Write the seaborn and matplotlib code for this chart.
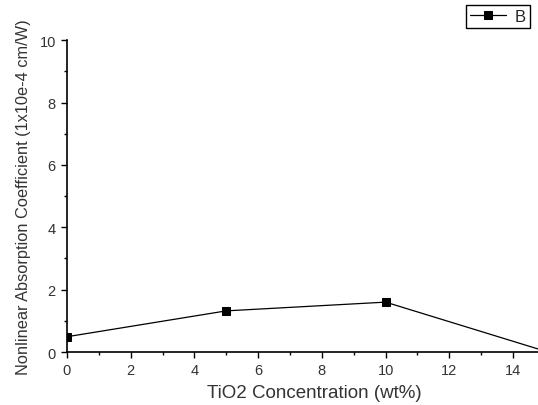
import matplotlib
matplotlib.use("Agg")
import matplotlib.pyplot as plt
import seaborn as sns
import pandas as pd
from matplotlib.ticker import MultipleLocator

# data
concentration = [0, 5, 10, 15]
coefficient = [0.49, 1.32, 1.60, 0.03]
series_name = "B"

df = pd.DataFrame({"x": concentration, "y": coefficient})

sns.set_style("ticks")
plt.rcParams["font.family"] = ["Liberation Sans", "DejaVu Sans"]

fig = plt.figure(figsize=(5.38, 4.06), dpi=100)
# axes run past the right edge, like the cropped original
ax = fig.add_axes([0.1245, 0.1305, 0.918, 0.768])

sns.lineplot(data=df, x="x", y="y", ax=ax, color="black", marker="s",
             markersize=6, linewidth=0.9, markeredgecolor="black",
             label=series_name, legend=False)

ax.set_xlim(0, 15.5)
ax.set_ylim(0, 10)
ax.xaxis.set_major_locator(MultipleLocator(2))
ax.xaxis.set_minor_locator(MultipleLocator(1))
ax.yaxis.set_major_locator(MultipleLocator(2))
ax.yaxis.set_minor_locator(MultipleLocator(1))
ax.tick_params(which="major", direction="out", length=4.5, width=1,
               labelsize=10.5, labelcolor="#333333", color="black")
ax.tick_params(which="minor", direction="out", length=2.5, width=1, color="black")

for side in ["top", "right"]:
    ax.spines[side].set_visible(False)
for side in ["left", "bottom"]:
    ax.spines[side].set_linewidth(1.2)
    ax.spines[side].set_color("black")

ax.set_xlabel("TiO2 Concentration (wt%)", fontsize=13.5, color="#333333", labelpad=5)
ax.set_ylabel("Nonlinear Absorption Coefficient (1x10e-4 cm/W)", fontsize=11.8,
              color="#333333", labelpad=6)

handles, labels = ax.get_legend_handles_labels()
leg = fig.legend(handles, labels, loc="upper right",
                 bbox_to_anchor=(530 / 538, 1 - 6 / 406), fancybox=False,
                 edgecolor="black", framealpha=1, fontsize=12, handlelength=2.2,
                 borderpad=0.25, handletextpad=0.5, borderaxespad=0)
leg.get_frame().set_linewidth(1.0)

fig.savefig("out.png", dpi=100)
